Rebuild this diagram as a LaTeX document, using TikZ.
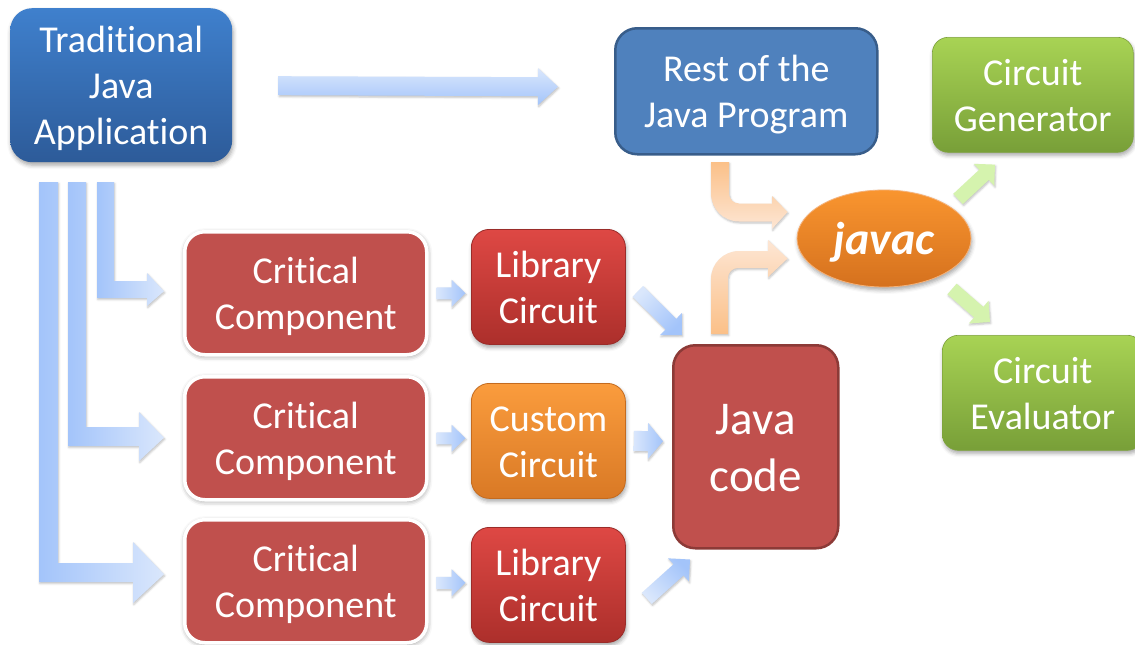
\documentclass[tikz,border=0pt]{standalone}
\usepackage{fontspec}
\setmainfont{Carlito}[Ligatures=NoCommon]
\usetikzlibrary{calc,shadows.blur,shapes.geometric}

\definecolor{tradtop}{HTML}{3F80CD}
\definecolor{tradbot}{HTML}{2D5B99}
\definecolor{restfill}{HTML}{4F81BD}
\definecolor{restline}{HTML}{385D8A}
\definecolor{critfill}{HTML}{C0504D}
\definecolor{codeline}{HTML}{8C3A37}
\definecolor{libtop}{HTML}{DE4844}
\definecolor{libbot}{HTML}{AC2F2B}
\definecolor{libline}{HTML}{9A2C29}
\definecolor{custtop}{HTML}{FA9C3D}
\definecolor{custbot}{HTML}{D97925}
\definecolor{custline}{HTML}{C46B1F}
\definecolor{greentop}{HTML}{A8D354}
\definecolor{greenbot}{HTML}{789F38}
\definecolor{greenline}{HTML}{7DA23C}
\definecolor{javactop}{HTML}{F9952F}
\definecolor{javacbot}{HTML}{D5711E}
\definecolor{javacline}{HTML}{F5B27A}
\definecolor{blueD}{HTML}{A3C4FA}
\definecolor{blueL}{HTML}{DAE7FC}
\definecolor{peachD}{HTML}{FBC088}
\definecolor{peachL}{HTML}{FDE6D4}
\definecolor{greenarrow}{HTML}{D5F3AE}

% fixed line metrics for the first and last line of a label
\newcommand\firstline{\rule{0pt}{0.95em}}
\newcommand\lastline{\rule[-0.25em]{0pt}{0.25em}}

\tikzset{
  boxbase/.style={anchor=north west, inner sep=0pt, align=center, text=white,
    font=\fontsize{38}{46}\selectfont},
  softshadow/.style={blur shadow={shadow xshift=1pt, shadow yshift=-3pt,
    shadow blur radius=4pt, shadow opacity=35}},
  tradbox/.style={boxbase, rounded corners=22pt, top color=tradtop, bottom color=tradbot, softshadow},
  restbox/.style={boxbase, rounded corners=22pt, fill=restfill, draw=restline, line width=2.5pt},
  critbox/.style={boxbase, rounded corners=20pt, fill=critfill, draw=white, line width=3.5pt,
    blur shadow={shadow xshift=0.5pt, shadow yshift=-1.5pt, shadow blur radius=5pt, shadow opacity=45}},
  libbox/.style={boxbase, rounded corners=18pt, top color=libtop, bottom color=libbot,
    draw=libline, line width=0.8pt, softshadow},
  custbox/.style={boxbase, rounded corners=18pt, top color=custtop, bottom color=custbot,
    draw=custline, line width=0.8pt, softshadow},
  codebox/.style={boxbase, rounded corners=22pt, fill=critfill, draw=codeline, line width=2.5pt,
    font=\fontsize{47}{57}\selectfont},
  greenbox/.style={boxbase, rounded corners=16pt, top color=greentop, bottom color=greenbot,
    draw=greenline, line width=0.6pt, softshadow},
  javacnode/.style={ellipse, inner sep=0pt, minimum width=174pt, minimum height=97pt,
    top color=javactop, bottom color=javacbot, draw=javacline, line width=0.8pt, text=white,
    font=\fontsize{46}{55}\selectfont\bfseries\itshape, softshadow},
  arrowshadow/.style={blur shadow={shadow xshift=0.8pt, shadow yshift=-1.5pt,
    shadow blur radius=2pt, shadow opacity=25}},
  bluearrow/.style={arrowshadow},
  peacharrow/.style={arrowshadow},
  greenblock/.style={fill=greenarrow, arrowshadow},
}

% straight block arrow: #1 style, #2 tail, #3 tip, #4 half shaft width,
% #5 half head width, #6 head length
\newcommand\blockarrow[6]{%
  \coordinate (ba-a) at #2;
  \coordinate (ba-b) at #3;
  \coordinate (ba-h) at ($(ba-b)!#6!(ba-a)$);
  \path[#1] ($(ba-a)!#4!90:(ba-b)$) -- ($(ba-h)!#4!90:(ba-b)$)
    -- ($(ba-h)!#5!90:(ba-b)$) -- (ba-b) -- ($(ba-h)!#5!-90:(ba-b)$)
    -- ($(ba-h)!#4!-90:(ba-b)$) -- ($(ba-a)!#4!-90:(ba-b)$) -- cycle;}

\begin{document}
\begin{tikzpicture}[x=1pt,y=-1pt]
\useasboundingbox (0,0) rectangle (1135,645);
\clip (0,0) rectangle (1135,645);

% boxes
\node[tradbox, minimum width=222pt, minimum height=154pt] (trad) at (10,8)
  {\firstline Traditional\\Java\\Application\lastline};
\node[restbox, minimum width=262pt, minimum height=126pt] (rest) at (614,27)
  {\firstline Rest of the\\Java Program\lastline};
\node[greenbox, minimum width=201pt, minimum height=115pt] (gen) at (932,37)
  {\firstline Circuit\\Generator\lastline};
\node[greenbox, minimum width=201pt, minimum height=115pt] (eval) at (942,335)
  {\firstline Circuit\\Evaluator\lastline};
\node[javacnode] (javac) at (884,238.5) {\firstline javac\lastline};

\node[critbox, minimum width=242pt, minimum height=123pt] (crit1) at (183,230)
  {\firstline Critical\\Component\lastline};
\node[critbox, minimum width=242pt, minimum height=123pt] (crit2) at (183,375)
  {\firstline Critical\\Component\lastline};
\node[critbox, minimum width=242pt, minimum height=123pt] (crit3) at (183,518)
  {\firstline Critical\\Component\lastline};

\node[libbox, minimum width=154pt, minimum height=115pt] (lib1) at (471,229)
  {\firstline Library\\Circuit\lastline};
\node[custbox, minimum width=154pt, minimum height=115pt] (cust) at (471,383)
  {\firstline Custom\\Circuit\lastline};
\node[libbox, minimum width=154pt, minimum height=115pt] (lib3) at (471,527)
  {\firstline Library\\Circuit\lastline};

\node[codebox, minimum width=165pt, minimum height=203pt] (code) at (672,344)
  {\firstline Java\\code\lastline};

% application to the rest of the program
\blockarrow{bluearrow, top color=blueL, bottom color=blueD}
  {($(trad.east)+(46,0.5)$)}{($(rest.west)+(-56,-4.5)$)}{9.5pt}{18.5pt}{20pt}

% application to the critical components
\path[bluearrow, left color=blueD, right color=blueL]
  (97,182) -- (114,182) -- (114,281) -- (147,281) -- (147,273)
  -- ($(crit1.west)+(-19,-2)$) -- (147,306) -- (147,298) -- (97,298) -- cycle;
\path[bluearrow, left color=blueD, right color=blueL]
  (68,182) -- (86,182) -- (86,427) -- (139,427) -- (139,412)
  -- ($(crit2.west)+(-19,-0.5)$) -- (139,461) -- (139,446) -- (68,446) -- cycle;
\path[bluearrow, left color=blueD, right color=blueL]
  (39,182) -- (58,182) -- (58,563) -- (133,563) -- (133,542)
  -- ($(crit3.west)+(-19,-7)$) -- (133,603) -- (133,582) -- (39,582) -- cycle;

% components to circuits
\blockarrow{bluearrow, left color=blueL, right color=blueD}
  {($(crit1.east)+(8,0)$)}{($(crit1.east)+(37,0)$)}{6pt}{13.5pt}{14pt}
\blockarrow{bluearrow, left color=blueL, right color=blueD}
  {($(crit2.east)+(8,0)$)}{($(crit2.east)+(37,0)$)}{6pt}{13.5pt}{14pt}
\blockarrow{bluearrow, left color=blueL, right color=blueD}
  {($(crit3.east)+(8,1.5)$)}{($(crit3.east)+(37,1.5)$)}{6pt}{13.5pt}{14pt}

% circuits to the Java code
\blockarrow{bluearrow, top color=blueL, bottom color=blueD, shading angle=45}
  {($(lib1.east)+(12,4.5)$)}{($(code.north west)+(10,-9)$)}{7.5pt}{15.5pt}{15.5pt}
\blockarrow{bluearrow, left color=blueL, right color=blueD}
  {($(cust.east)+(8,0)$)}{($(code.west)+(-9,-5.5)$)}{10pt}{18pt}{15pt}
\blockarrow{bluearrow, top color=blueD, bottom color=blueL, shading angle=-45}
  {($(lib3.east)+(21,13.5)$)}{($(code.south west)+(18,10)$)}{7.5pt}{15.5pt}{15.5pt}

% into the compiler
\path[peacharrow, top color=peachD, bottom color=peachL]
  (711,162) [rounded corners=28pt] -- (711,221.5) [sharp corners]
  -- (772,221.5) -- (772,229) -- ($(javac.west)+(-9,-26.5)$) -- (772,196)
  -- (772,203.5) [rounded corners=10pt] -- (729,203.5) [sharp corners]
  -- (729,162) -- cycle;
\path[peacharrow, top color=peachL, bottom color=peachD]
  (711,334) [rounded corners=28pt] -- (711,251) [sharp corners]
  -- (768,251) -- (768,240) -- ($(javac.west)+(-9,20)$) -- (768,277)
  -- (768,268) [rounded corners=10pt] -- (728,268) [sharp corners]
  -- (728,334) -- cycle;

% out of the compiler
\blockarrow{greenblock}
  {($(javac.center)+(74,-39.5)$)}{($(gen.south west)+(63,12)$)}{7pt}{15pt}{15pt}
\blockarrow{greenblock}
  {($(javac.center)+(68,50.5)$)}{($(eval.north west)+(48,-13)$)}{7pt}{15pt}{15pt}
\end{tikzpicture}
\end{document}
